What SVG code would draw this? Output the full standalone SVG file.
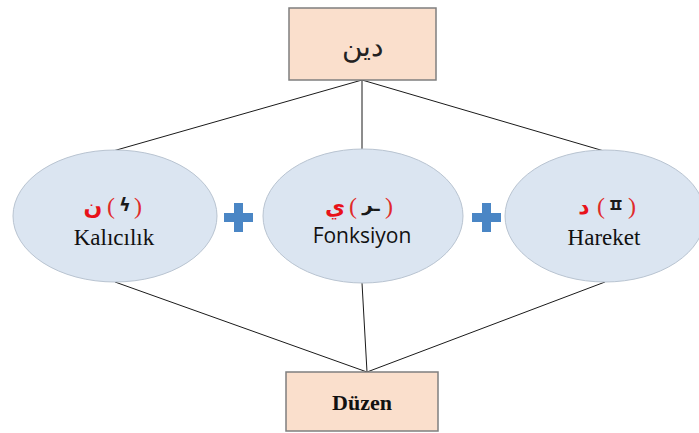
<svg xmlns="http://www.w3.org/2000/svg" width="699" height="433" viewBox="0 0 699 433">
<style>
.box{fill:#fadfcc;stroke:#7f7f7f;stroke-width:1.5}
.ell{fill:#dbe5f1;stroke:#b9c4d1;stroke-width:1}
.con{stroke:#1a1a1a;stroke-width:1;fill:none}
.red{fill:#e8121a;font-family:"DejaVu Sans",sans-serif;font-size:22px}
.par{fill:#e02a2a;font-family:"Liberation Serif",serif;font-size:24px}
.sym{fill:#1a1a1a;font-family:"DejaVu Sans","Noto Sans CJK KR",sans-serif;font-size:18px;font-weight:bold}
.serif{fill:#111;font-family:"Liberation Serif",serif;font-size:23px}
.sans{fill:#111;font-family:"Open Sans","Liberation Sans",sans-serif;font-size:21px}
.plus{fill:#4a86c5}
</style>
<rect width="699" height="433" fill="#fff"/>
<g id="connectors">
<line class="con" x1="362" y1="80" x2="113" y2="151"/>
<line class="con" x1="362" y1="80" x2="362" y2="151"/>
<line class="con" x1="362" y1="80" x2="604" y2="151"/>
<line class="con" x1="115" y1="282" x2="367" y2="372"/>
<line class="con" x1="362" y1="283" x2="367" y2="372"/>
<line class="con" x1="605" y1="282" x2="367" y2="372"/>
</g>
<g id="din">
<rect class="box" x="289" y="8" width="147" height="72"/>
<text x="362" y="56" text-anchor="middle" font-family="DejaVu Serif,serif" font-size="28" fill="#222">دين</text>
</g>
<g id="kalicilik">
<ellipse class="ell" cx="115" cy="216" rx="102" ry="66"/>
<text class="red" x="93" y="214" text-anchor="middle" font-weight="bold">ن</text>
<text class="par" x="111" y="214" text-anchor="middle">(</text>
<text class="sym" x="125" y="211" text-anchor="middle">ϟ</text>
<text class="par" x="138" y="214" text-anchor="middle">)</text>
<text class="serif" x="114" y="245" text-anchor="middle">Kalıcılık</text>
</g>
<g id="fonksiyon">
<ellipse class="ell" cx="363" cy="216" rx="100" ry="67"/>
<text class="red" x="335" y="214" text-anchor="middle" font-weight="bold">ي</text>
<text class="par" x="353" y="214" text-anchor="middle">(</text>
<text class="sym" x="371" y="211" text-anchor="middle">ـر</text>
<text class="par" x="389" y="214" text-anchor="middle">)</text>
<text class="sans" x="362" y="243" text-anchor="middle">Fonksiyon</text>
</g>
<g id="hareket">
<ellipse class="ell" cx="605" cy="216" rx="100" ry="66"/>
<text class="red" x="584" y="214" text-anchor="middle" font-weight="bold">د</text>
<text class="par" x="601" y="214" text-anchor="middle">(</text>
<text class="sym" x="616" y="212" text-anchor="middle" transform="rotate(180 616 205)">ㅍ</text>
<text class="par" x="632" y="214" text-anchor="middle">)</text>
<text class="serif" x="604" y="245" text-anchor="middle" font-size="25">Hareket</text>
</g>
<g id="plus1"><rect class="plus" x="224" y="213" width="29" height="9"/><rect class="plus" x="234" y="203" width="9" height="29"/></g>
<g id="plus2"><rect class="plus" x="472" y="213" width="29" height="9"/><rect class="plus" x="482" y="203" width="9" height="29"/></g>
<g id="duzen">
<rect class="box" x="286" y="372" width="152" height="59"/>
<text x="362" y="410" text-anchor="middle" font-family="Liberation Serif,serif" font-weight="bold" font-size="22" fill="#111">Düzen</text>
</g>
</svg>
